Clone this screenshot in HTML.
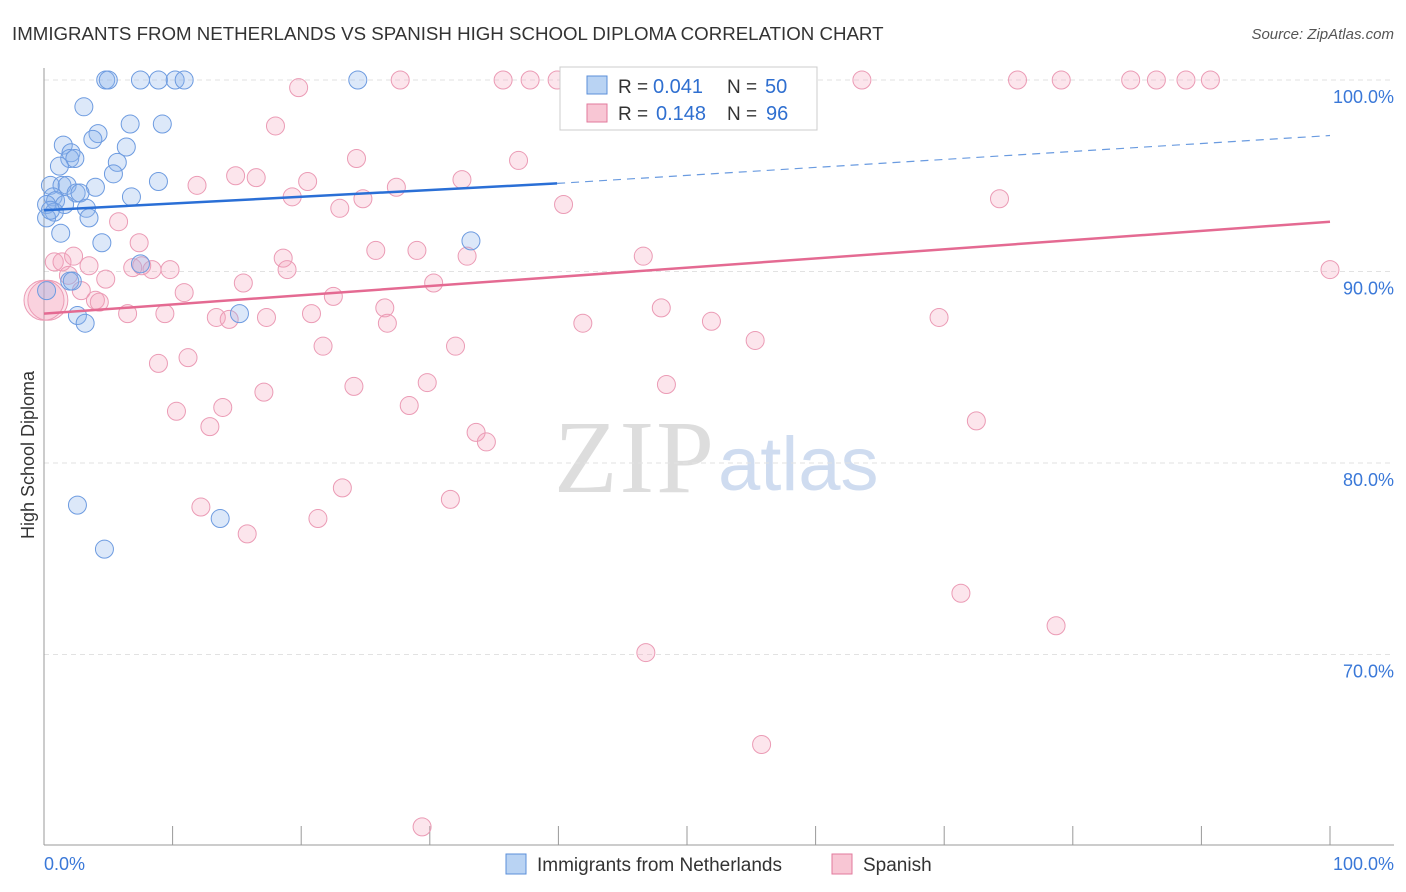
<!DOCTYPE html>
<html><head><meta charset="utf-8"><style>
body{margin:0;background:#fff;font-family:"Liberation Sans",sans-serif}
</style></head><body>
<svg id="c" width="1406" height="892" style="position:absolute;left:0;top:0">
<text x="12" y="40" font-size="18.7" fill="#333">IMMIGRANTS FROM NETHERLANDS VS SPANISH HIGH SCHOOL DIPLOMA CORRELATION CHART</text>
<text x="1394" y="39" font-size="15" fill="#555" text-anchor="end" font-style="italic">Source: ZipAtlas.com</text>
<text x="714" y="492" font-size="104" fill="#ddd" text-anchor="end" font-family="Liberation Serif" textLength="160">ZIP</text>
<text x="718" y="490" font-size="76" fill="#cfdcf0">atlas</text>
<text x="34" y="455" font-size="18" fill="#333" transform="rotate(-90 34 455)" text-anchor="middle">High School Diploma</text>
<g id="grid"></g><g id="pts"></g><g id="trend"></g>
<g>
<rect x="560" y="67" width="257" height="63" fill="#fff" stroke="#ccc"/>
<rect x="587" y="76" width="20" height="18" fill="#b9d3f3" stroke="#5b8fd9"/>
<text x="618" y="93" font-size="19" fill="#333">R =</text>
<text x="653" y="93" font-size="20" fill="#2f6fd0">0.041</text>
<text x="727" y="93" font-size="19" fill="#333">N =</text>
<text x="765" y="93" font-size="20" fill="#2f6fd0">50</text>
<rect x="587" y="104" width="20" height="18" fill="#f8c6d4" stroke="#e27a9c"/>
<text x="618" y="120" font-size="19" fill="#333">R =</text>
<text x="656" y="120" font-size="20" fill="#2f6fd0">0.148</text>
<text x="727" y="120" font-size="19" fill="#333">N =</text>
<text x="766" y="120" font-size="20" fill="#2f6fd0">96</text>
</g>
<g>
<rect x="506" y="854" width="20" height="20" fill="#b9d3f3" stroke="#5b8fd9"/>
<text x="537" y="871" font-size="19" fill="#333">Immigrants from Netherlands</text>
<rect x="832" y="854" width="20" height="20" fill="#f8c6d4" stroke="#e27a9c"/>
<text x="863" y="871" font-size="19" fill="#333">Spanish</text>
</g>
<text x="44" y="870" font-size="18" fill="#3a78d8">0.0%</text>
<text x="1394" y="870" font-size="18" fill="#3a78d8" text-anchor="end">100.0%</text>
</svg>
<script>
const yTicks=[100,90,80,70];
const yTickLabels=["100.0%","90.0%","80.0%","70.0%"];
const blueX=[4.8,5.0,7.5,8.9,10.2,10.9,24.4,3.1,6.7,9.2,4.2,3.8,1.5,6.4,2.1,2.0,2.4,5.7,1.2,5.4,8.9,0.5,1.4,1.8,4.0,2.5,2.8,0.7,6.8,0.9,0.2,1.6,3.3,0.8,0.2,3.5,1.3,4.5,33.2,7.5,2.0,2.2,2.6,3.2,15.2,2.6,13.7,4.7,0.2,0.5];
const blueY=[100,100,100,100,100,100,100,98.6,97.7,97.7,97.2,96.9,96.6,96.5,96.2,95.9,95.9,95.7,95.5,95.1,94.7,94.5,94.5,94.5,94.4,94.1,94.1,93.9,93.9,93.7,93.5,93.5,93.3,93.1,92.8,92.8,92.0,91.5,91.6,90.4,89.5,89.5,87.7,87.3,87.8,77.8,77.1,75.5,89.0,93.2];
const pinkX=[27.7,35.7,37.8,39.9,52.3,63.6,75.7,79.1,84.5,86.5,88.8,90.7,19.8,18.0,24.3,36.9,14.9,16.5,20.5,11.9,27.4,32.5,19.3,24.8,23.0,40.4,74.3,5.8,7.4,25.8,29.0,32.9,46.6,18.6,0.8,1.4,2.3,3.5,18.9,9.8,8.4,6.9,7.6,1.9,4.8,15.5,100,2.9,10.9,30.3,22.5,4.0,4.3,26.5,48.0,20.8,6.5,9.4,13.4,14.4,17.3,26.7,41.9,51.9,69.6,55.3,21.7,32.0,11.2,8.9,24.1,29.8,48.4,17.1,28.4,13.9,10.3,33.6,34.4,12.9,72.5,23.2,31.6,12.2,21.3,15.8,71.3,78.7,46.8,55.8,29.4,0.3,0];
const pinkY=[100,100,100,100,100,100,100,100,100,100,100,100,99.6,97.6,95.9,95.8,95.0,94.9,94.7,94.5,94.4,94.8,93.9,93.8,93.3,93.5,93.8,92.6,91.5,91.1,91.1,90.8,90.8,90.7,90.5,90.5,90.8,90.3,90.1,90.1,90.1,90.2,90.3,89.8,89.6,89.4,90.1,89.0,88.9,89.4,88.7,88.5,88.4,88.1,88.1,87.8,87.8,87.8,87.6,87.5,87.6,87.3,87.3,87.4,87.6,86.4,86.1,86.1,85.5,85.2,84.0,84.2,84.1,83.7,83.0,82.9,82.7,81.6,81.1,81.9,82.2,78.7,78.1,77.7,77.1,76.3,73.2,71.5,70.1,65.3,61.0,88.5,88.5];
const blueTrend=[93.2,94.6,97.1];
const pinkTrend=[87.8,92.6];
const NS="http://www.w3.org/2000/svg";
const xs=v=>44+v*12.86, ys=v=>80+(100-v)*19.15;
function mk(t,a,p){const e=document.createElementNS(NS,t);for(const k in a)e.setAttribute(k,a[k]);p.appendChild(e);return e;}
const grid=document.getElementById('grid');
yTicks.forEach((t,i)=>{
 const l=mk('line',{x1:44,x2:1394,y1:ys(t),y2:ys(t),stroke:'#e2e2e2','stroke-dasharray':'5,4'},grid);
 
 
 const tx=mk('text',{x:1394,y:ys(t)+23,'font-size':18,fill:'#3a78d8','text-anchor':'end'},grid);
 tx.textContent=yTickLabels[i];
 
 
});
mk('line',{x1:44,x2:44,y1:68,y2:845,stroke:'#999'},grid);
mk('line',{x1:44,x2:1394,y1:845,y2:845,stroke:'#999'},grid);
for(let i=1;i<=10;i++){mk('line',{x1:xs(i*10),x2:xs(i*10),y1:826,y2:845,stroke:'#999'},grid);}
const pts=document.getElementById('pts');
pinkX.forEach((x,i)=>{
 const c=mk('circle',{cx:xs(x),cy:ys(pinkY[i]),r:x<0.5?20:9,fill:'rgba(244,160,186,0.28)',stroke:'#eb9bb5','stroke-width':1},pts);
 
 
});
blueX.forEach((x,i)=>{
 const c=mk('circle',{cx:xs(x),cy:ys(blueY[i]),r:9,fill:'rgba(140,180,235,0.3)',stroke:'#6d9be0','stroke-width':1},pts);
 
 
});
const tr=document.getElementById('trend');
let b=mk('line',{x1:xs(0),y1:ys(blueTrend[0]),x2:xs(39.9),y2:ys(blueTrend[1]),stroke:'#2a6fd6','stroke-width':2.5},tr);


let bd=mk('line',{x1:xs(39.9),y1:ys(blueTrend[1]),x2:xs(100),y2:ys(blueTrend[2]),stroke:'#6a9be0','stroke-width':1.2,'stroke-dasharray':'8,6'},tr);


let p=mk('line',{x1:xs(0),y1:ys(pinkTrend[0]),x2:xs(100),y2:ys(pinkTrend[1]),stroke:'#e46a92','stroke-width':2.5},tr);


</script>
</body></html>
